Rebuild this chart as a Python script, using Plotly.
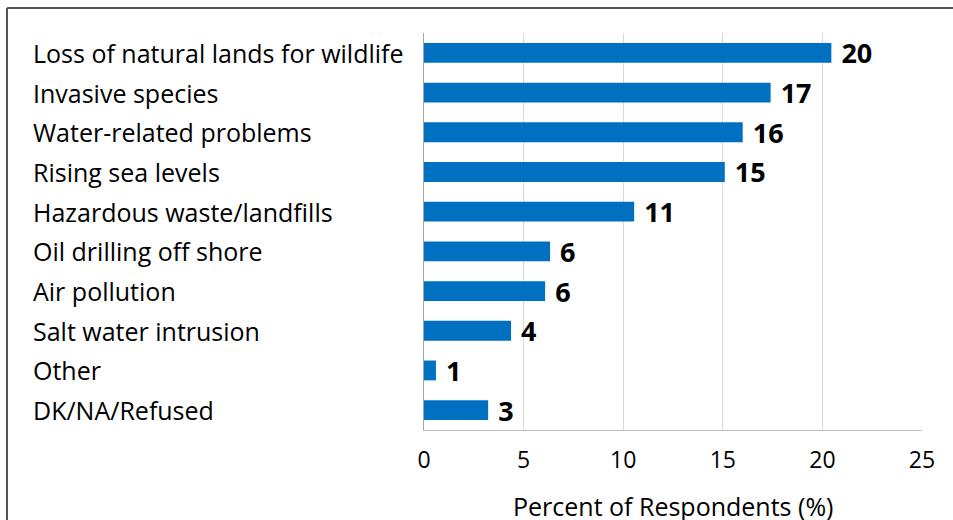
import plotly.graph_objects as go

categories = [
    "Loss of natural lands for wildlife",
    "Invasive species",
    "Water-related problems",
    "Rising sea levels",
    "Hazardous waste/landfills",
    "Oil drilling off shore",
    "Air pollution",
    "Salt water intrusion",
    "Other",
    "DK/NA/Refused",
]
values = [20.45, 17.4, 16.0, 15.1, 10.55, 6.33, 6.08, 4.37, 0.6, 3.22]
value_labels = ["20", "17", "16", "15", "11", "6", "6", "4", "1", "3"]
x_ticks = [0, 5, 10, 15, 20, 25]
x_title = "Percent of Respondents (%)"

W, H = 953, 520
ML, MR, MT, MB = 424, 31, 33, 90
PW, PH = W - ML - MR, H - MT - MB
FONT = "Open Sans"

fig = go.Figure()
fig.add_trace(go.Bar(
    x=values,
    y=categories,
    orientation="h",
    marker=dict(color="#0070C0", line=dict(width=0)),
    text=[" " + s for s in value_labels],
    textposition="outside",
    constraintext="none",
    textfont=dict(family=FONT, size=27, color="#000000", weight="bold"),
    cliponaxis=False,
    hoverinfo="skip",
))

annotations = []
for c in categories:
    annotations.append(dict(
        x=(31 - ML) / PW, xref="paper", y=c, yref="y",
        text=c, showarrow=False, xanchor="left", yanchor="middle",
        font=dict(family=FONT, size=25, color="#000000"),
    ))
annotations.append(dict(
    x=0.5, xref="paper", y=(430 - 506) / PH, yref="paper",
    text=x_title, showarrow=False, xanchor="center", yanchor="middle",
    font=dict(family=FONT, size=25, color="#000000"),
))

shapes = [
    dict(type="line", xref="paper", yref="paper",
         x0=(7 - ML) / PW, x1=(W + 10 - ML) / PW,
         y0=(H - MB - 8) / PH, y1=(H - MB - 8) / PH,
         line=dict(color="#555555", width=2)),
    dict(type="line", xref="paper", yref="paper",
         x0=(7 - ML) / PW, x1=(7 - ML) / PW,
         y0=(H - MB - 8) / PH, y1=(H - MB - H - 10) / PH,
         line=dict(color="#555555", width=2)),
]

fig.update_layout(
    width=W, height=H,
    margin=dict(l=ML, r=MR, t=MT, b=MB, pad=0),
    paper_bgcolor="white", plot_bgcolor="white",
    showlegend=False,
    bargap=0.5,
    xaxis=dict(
        range=[0, 25], tickvals=x_ticks, ticks="",
        showgrid=True, gridcolor="#D9D9D9", gridwidth=1,
        showline=True, linecolor="#BFBFBF", linewidth=1,
        zeroline=False,
        tickfont=dict(family=FONT, size=23, color="#000000"),
        ticklabelstandoff=9,
    ),
    yaxis=dict(
        autorange="reversed", showticklabels=False, ticks="",
        showline=True, linecolor="#A6A6A6", linewidth=1,
        showgrid=False,
    ),
    annotations=annotations,
    shapes=shapes,
)

fig.write_html("out.html")
